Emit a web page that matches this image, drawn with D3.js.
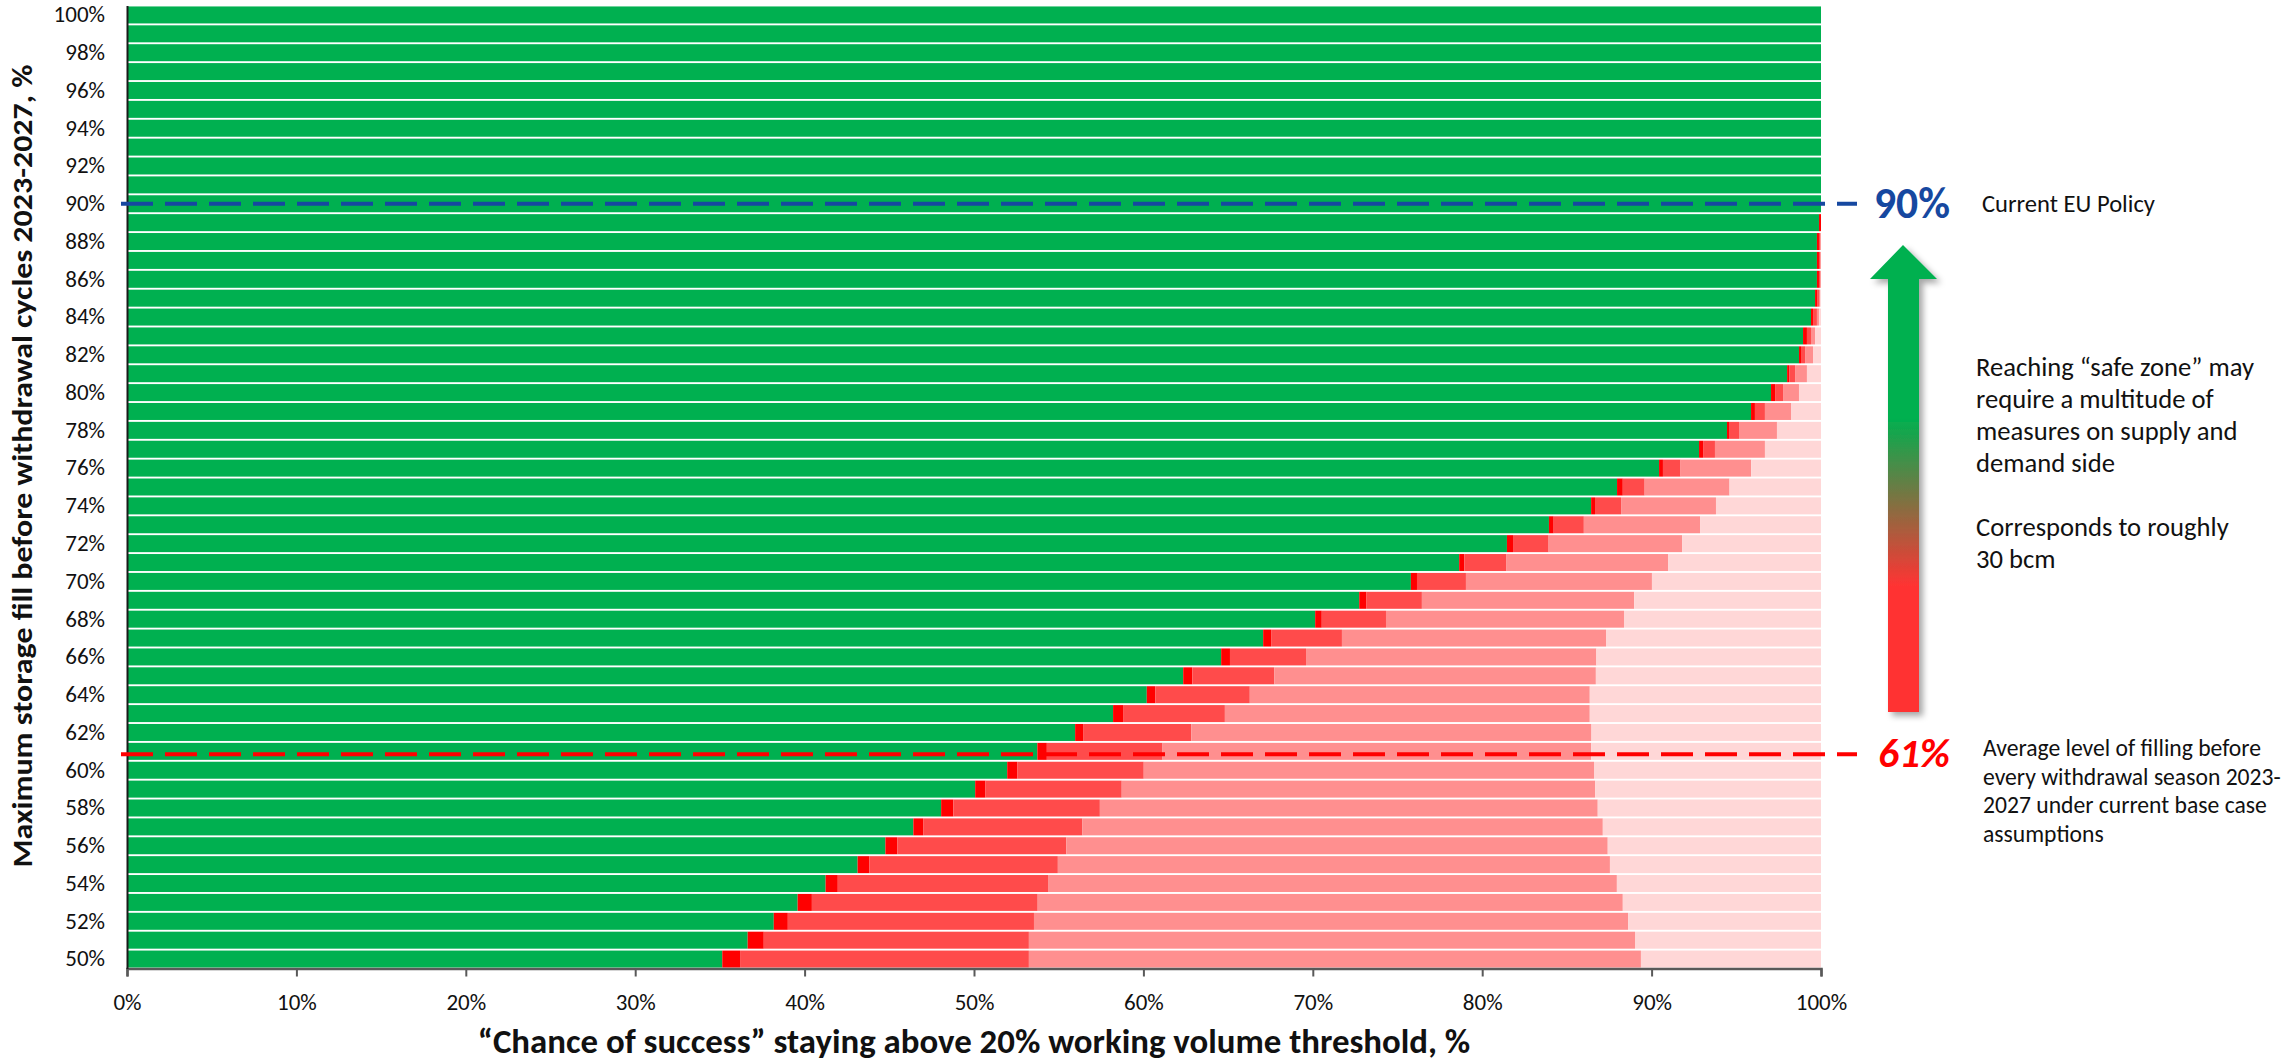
<!DOCTYPE html>
<html><head><meta charset="utf-8">
<script src="https://cdn.jsdelivr.net/npm/d3@7"></script>
<style>html,body{margin:0;padding:0;background:#fff;} svg{display:block;}</style>
</head><body>
<svg id="chart" width="2290" height="1063"></svg>
<script>
// Maximum storage fill (rows, %)
const categories = [50,51,52,53,54,55,56,57,58,59,60,61,62,63,64,65,66,67,68,69,70,71,72,73,74,75,76,77,78,79,80,81,82,83,84,85,86,87,88,89,90,91,92,93,94,95,96,97,98,99,100];
// Series values (% share of each row), index 0 = 50%
const green   = [35.14,36.64,38.18,39.59,41.24,43.13,44.77,46.42,48.06,50.07,51.96,53.74,55.97,58.21,60.20,62.35,64.59,67.07,70.14,72.74,75.79,78.64,81.46,83.94,86.43,87.96,90.44,92.80,94.45,95.87,97.05,98.00,98.70,98.94,99.41,99.65,99.76,99.76,99.76,99.88,100,100,100,100,100,100,100,100,100,100,100];
const darkRed = [1.05,0.95,0.83,0.84,0.72,0.70,0.70,0.58,0.72,0.61,0.59,0.56,0.50,0.59,0.50,0.54,0.52,0.47,0.39,0.41,0.36,0.31,0.36,0.28,0.23,0.34,0.23,0.24,0.12,0.23,0.24,0.12,0.12,0.23,0.12,0.15,0.12,0.12,0.12,0.12,0,0,0,0,0,0,0,0,0,0,0];
const red     = [17.05,15.65,14.53,13.33,12.41,11.12,9.98,9.40,8.65,8.04,7.47,6.83,6.36,6.01,5.58,4.84,4.49,4.18,3.79,3.29,2.89,2.46,2.10,1.78,1.54,1.29,1.04,0.70,0.59,0.59,0.47,0.35,0.24,0.24,0.23,0.08,0.07,0.07,0.07,0,0,0,0,0,0,0,0,0,0,0,0];
const salmon  = [36.13,35.78,35.07,34.54,33.58,32.59,31.96,30.72,29.39,27.95,26.58,25.30,23.62,21.54,20.07,18.98,17.14,15.59,14.05,12.53,10.98,9.56,7.88,6.86,5.60,5.01,4.17,2.95,2.24,1.54,0.94,0.70,0.47,0.24,0.12,0.07,0.05,0.05,0.05,0,0,0,0,0,0,0,0,0,0,0,0];
const pink    = [10.63,10.98,11.39,11.70,12.05,12.46,12.59,12.88,13.18,13.33,13.40,13.57,13.55,13.65,13.65,13.29,13.26,12.69,11.63,11.03,9.98,9.03,8.20,7.14,6.20,5.40,4.12,3.31,2.60,1.77,1.30,0.83,0.47,0.35,0.12,0.05,0,0,0,0,0,0,0,0,0,0,0,0,0,0,0];
const xTicks = [0,10,20,30,40,50,60,70,80,90,100];
const yTicks = [50,52,54,56,58,60,62,64,66,68,70,72,74,76,78,80,82,84,86,88,90,92,94,96,98,100];
const policyLevel = 90;
const averageLevel = 61;

const seriesKeys = ["green","darkRed","red","salmon","pink"];
const seriesColors = {green:"#00B050", darkRed:"#FF0000", red:"#FF4B4B", salmon:"#FF8F8F", pink:"#FFD7D7"};
const table = categories.map((c,i)=>({cat:c, green:green[i], darkRed:darkRed[i], red:red[i], salmon:salmon[i], pink:pink[i]}));

const svg = d3.select("#chart");
const FONT = "Carlito, Lato, 'Open Sans', sans-serif";
const x = d3.scaleLinear().domain([0,100]).range([127,1821]);
const y = d3.scaleBand().domain(categories).range([968.5,5.5]).paddingInner(0.1).paddingOuter(0.05);

const stacked = d3.stack().keys(seriesKeys)(table);
svg.append("g").selectAll("g").data(stacked).join("g")
  .attr("fill", d=>seriesColors[d.key])
  .selectAll("rect").data(d=>d).join("rect")
  .attr("x", d=>x(d[0]))
  .attr("width", d=>Math.max(0, x(d[1])-x(d[0])))
  .attr("y", d=>y(d.data.cat))
  .attr("height", y.bandwidth());

// x axis
const xAxis = svg.append("g").attr("transform","translate(0,968.5)")
  .call(d3.axisBottom(x).tickValues(xTicks).tickFormat(d=>d+"%").tickSize(8).tickPadding(17));
xAxis.select(".domain").attr("stroke","#595959").attr("stroke-width",2.5);
xAxis.selectAll(".tick line").attr("stroke","#595959").attr("stroke-width",2);
xAxis.selectAll("text").attr("font-family",FONT).attr("font-size",23).attr("fill","#111");

// y axis
const yAxis = svg.append("g").attr("transform","translate(127,0)")
  .call(d3.axisLeft(y).tickValues(yTicks).tickFormat(d=>d+"%").tickSize(0).tickPadding(22));
yAxis.select(".domain").attr("stroke","#1a1a1a").attr("stroke-width",2);
yAxis.selectAll("text").attr("font-family",FONT).attr("font-size",23).attr("fill","#111");

// dashed reference lines
const yc = v => y(v) + y.bandwidth()/2;
svg.append("line").attr("x1",121).attr("x2",1857).attr("y1",yc(policyLevel)).attr("y2",yc(policyLevel))
  .attr("stroke","#1648A0").attr("stroke-width",4).attr("stroke-dasharray","32,12");
svg.append("line").attr("x1",121).attr("x2",1857).attr("y1",yc(averageLevel)+3).attr("y2",yc(averageLevel)+3)
  .attr("stroke","#FF0000").attr("stroke-width",4).attr("stroke-dasharray","32,12");

function fit(sel, width){
  const w = sel.node().getComputedTextLength();
  const fs = parseFloat(sel.attr("font-size"));
  sel.attr("font-size", fs*width/w);
  return fs*width/w;
}

// Arrow
const defs = svg.append("defs");
const grad = defs.append("linearGradient").attr("id","arrowGrad").attr("gradientUnits","userSpaceOnUse")
  .attr("x1",0).attr("x2",0).attr("y1",245).attr("y2",712);
grad.append("stop").attr("offset",0.37).attr("stop-color","#00B050");
grad.append("stop").attr("offset",0.73).attr("stop-color","#FF3333");
const filt = defs.append("filter").attr("id","shadow").attr("x","-50%").attr("y","-10%").attr("width","200%").attr("height","120%");
filt.append("feDropShadow").attr("dx",4).attr("dy",4).attr("stdDeviation",3).attr("flood-color","#000").attr("flood-opacity",0.35);
svg.append("path")
  .attr("d","M1903,245 L1937,279 L1919,279 L1919,712 L1888,712 L1888,279 L1870,279 Z")
  .attr("fill","url(#arrowGrad)").attr("filter","url(#shadow)");

// Right annotations
const t90 = svg.append("text").attr("x",1874).attr("y",yc(policyLevel)+14).attr("font-family",FONT)
  .attr("font-weight",700).attr("font-size",38).attr("fill","#1648A0").text("90%");
fit(t90,76);
const tPol = svg.append("text").attr("x",1982).attr("y",yc(policyLevel)+8).attr("font-family",FONT)
  .attr("font-size",22).attr("fill","#111").text("Current EU Policy");
fit(tPol,173);

const block1 = ["Reaching “safe zone” may","require a multitude of","measures on supply and","demand side","","Corresponds to roughly","30 bcm"];
const g1 = svg.append("text").attr("font-family",FONT).attr("font-size",22).attr("fill","#111");
block1.forEach((s,i)=>{ g1.append("tspan").attr("x",1976).attr("y",376+i*32).text(s); });
{
  const first = g1.select("tspan").node().getComputedTextLength();
  g1.attr("font-size", 22*278/first);
}

const t61 = svg.append("text").attr("x",1878).attr("y",yc(averageLevel)+16).attr("font-family",FONT)
  .attr("font-weight",700).attr("font-style","italic").attr("font-size",38).attr("fill","#FF0000").text("61%");
fit(t61,72);
const block2 = ["Average level of filling before","every withdrawal season 2023-","2027 under current base case","assumptions"];
const g2 = svg.append("text").attr("font-family",FONT).attr("font-size",20).attr("fill","#111");
block2.forEach((s,i)=>{ g2.append("tspan").attr("x",1983).attr("y",756+i*28.5).text(s); });
{
  const spans = g2.selectAll("tspan").nodes();
  const widest = d3.max(spans, n=>n.getComputedTextLength());
  g2.attr("font-size", 20*298/widest);
}

// Axis titles
svg.append("text").attr("transform","translate(32,466) rotate(-90)").attr("text-anchor","middle")
  .attr("font-family",FONT).attr("font-weight",700).attr("font-size",29).attr("fill","#111")
  .attr("textLength",803).attr("lengthAdjust","spacingAndGlyphs")
  .text("Maximum storage fill before withdrawal cycles 2023-2027, %");
const xt = svg.append("text").attr("x",974).attr("y",1053).attr("text-anchor","middle")
  .attr("font-family",FONT).attr("font-weight",700).attr("font-size",31).attr("fill","#111")
  .text("“Chance of success” staying above 20% working volume threshold, %");
fit(xt,993);
</script>
</body></html>
